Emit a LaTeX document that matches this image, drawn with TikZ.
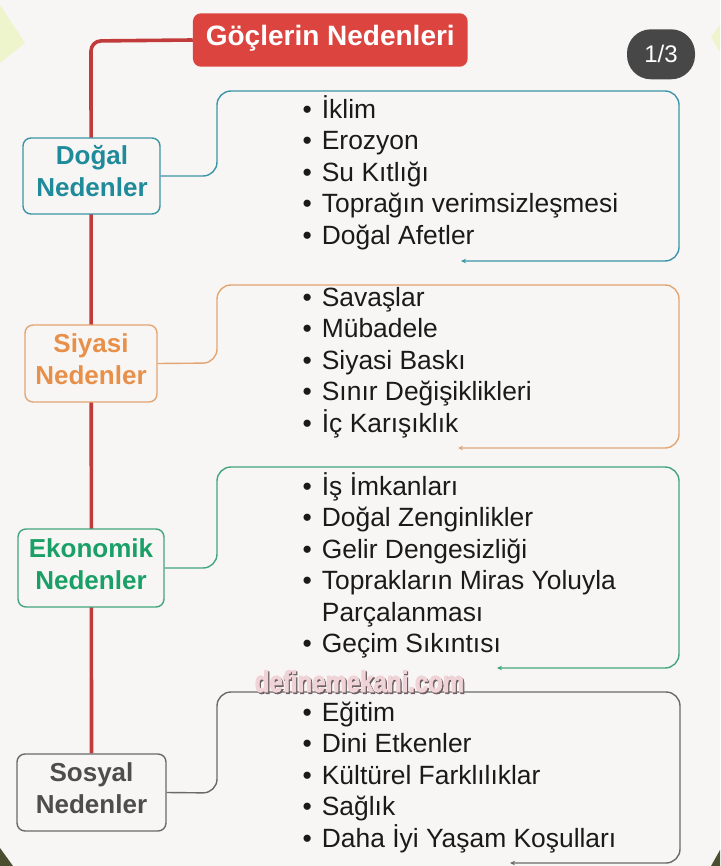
\documentclass[tikz,border=0pt]{standalone}
\usepackage{fontspec}
\setmainfont{Liberation Sans}
\newfontfamily\wmfont[BoldFeatures={FakeBold=3}]{Liberation Sans}
\usetikzlibrary{arrows.meta}
\definecolor{bgc}{HTML}{F8F6F5}
\definecolor{titlered}{HTML}{DC4440}
\definecolor{spinered}{HTML}{C23B3B}
\definecolor{tealtxt}{HTML}{1E8A9A}
\definecolor{tealln}{HTML}{3A96A6}
\definecolor{orgtxt}{HTML}{E8904A}
\definecolor{orgln}{HTML}{E2A673}
\definecolor{grntxt}{HTML}{1AA066}
\definecolor{grnln}{HTML}{42A67C}
\definecolor{graytxt}{HTML}{4D4D4D}
\definecolor{grayln}{HTML}{6A6A6A}
\definecolor{listtxt}{HTML}{1A1A1A}
\definecolor{badge}{HTML}{474747}
\definecolor{lime}{HTML}{EEF4CC}
\definecolor{olive}{HTML}{4A4F30}
\definecolor{wmpink}{HTML}{F0D3D7}
\definecolor{wmshadow}{HTML}{6E6062}
\pgfdeclarelayer{back}
\pgfdeclarelayer{bg}
\pgfsetlayers{back,bg,main}
\newcommand\li[1]{\hbox{\makebox[19.3pt][l]{•}#1}}
\newcommand\lc[1]{\hbox{\hspace*{19.3pt}#1}}
\newcommand\itemlist[1]{\vtop{\baselineskip=31.5pt\lineskiplimit=-50pt\lineskip=0pt #1}}
\newcommand\ctrlbl[2]{\vtop{\baselineskip=32pt\lineskiplimit=-50pt\lineskip=0pt\hbox to 0pt{\hss#1\hss}\hbox to 0pt{\hss#2\hss}}}
\newcommand\shadowed[1]{\rlap{\kern1.6pt\raisebox{-1.6pt}{\color{wmshadow}#1}}{\color{wmpink}#1}}
\tikzset{
  catbox/.style={draw=#1, line width=1.4pt, fill=bgc, rounded corners=8pt, inner sep=0pt},
  cattxt/.style={text=#1, font=\fontsize{26}{32}\selectfont\bfseries, inner sep=0pt, anchor=base},
  listnode/.style={text=listtxt, font=\fontsize{26.4}{31.5}\selectfont, inner sep=0pt, anchor=base west},
  bracket/.style={draw=#1, line width=1.4pt, rounded corners=14pt, -{Stealth[length=5pt,width=4.5pt]}},
  wmtext/.style={font=\fontsize{30}{32}\selectfont\wmfont\bfseries, inner sep=0pt, anchor=base},
}
\begin{document}
\begin{tikzpicture}[x=1pt,y=-1pt]
\useasboundingbox (0,0) rectangle (720,866);
\begin{pgfonlayer}{back}
\fill[bgc] (0,0) rectangle (720,866);
\fill[lime] (0,5) -- (25,43) -- (0,63) -- cycle;
\fill[lime] (711,37) -- (720,25) -- (720,52) -- cycle;
\fill[olive] (0,848) -- (13,866) -- (0,866) -- cycle;
\fill[olive] (711,866) -- (720,850) -- (720,866) -- cycle;
\end{pgfonlayer}

% title
\node[fill=titlered, rounded corners=8pt, minimum width=274.7pt, minimum height=53.4pt, inner sep=0pt,
      text=white, font=\fontsize{28}{32}\selectfont\bfseries, text height=20pt, text depth=8pt]
      (title) at (330.3,40) {Göçlerin Nedenleri};

% page badge
\node[fill=badge, rounded corners=24pt, minimum width=68pt, minimum height=50pt, inner sep=0pt,
      text=white, font=\fontsize{24}{28}\selectfont, text height=18pt, text depth=1.2pt]
      (badge) at (661,54.3) {1/3};

% category boxes
\node[catbox=tealln, minimum width=137pt, minimum height=76pt] (dogal) at (91.5,176) {};
\node[catbox=orgln, minimum width=132pt, minimum height=77pt] (siyasi) at (91,363.5) {};
\node[catbox=grnln, minimum width=146pt, minimum height=78pt] (ekonomik) at (91,568) {};
\node[catbox=grayln, minimum width=149pt, minimum height=77pt] (sosyal) at (91.5,792.5) {};

\node[cattxt=tealtxt] (dogalt) at (92,165) {\ctrlbl{Doğal}{Nedenler}};
\node[cattxt=orgtxt] (siyasit) at (91,352.7) {\ctrlbl{Siyasi}{Nedenler}};
\node[cattxt=grntxt] (ekonomikt) at (91,557.7) {\ctrlbl{Ekonomik}{Nedenler}};
\node[cattxt=graytxt] (sosyalt) at (91.5,781.7) {\ctrlbl{Sosyal}{Nedenler}};

% spine
\begin{pgfonlayer}{bg}
\draw[spinered, line width=3.6pt, rounded corners=10pt] (title.west) -- (91,41) -- (sosyal.north);
\end{pgfonlayer}

% bracket connectors
\coordinate (dogalend) at (461,261);
\coordinate (siyasiend) at (458,448);
\coordinate (ekonomikend) at (497,668);
\coordinate (sosyalend) at (510,863);
\draw[bracket=tealln] (dogal.east) -- (217,176) -- (217,91) -- (679,91) -- (679,261) -- (dogalend);
\draw[bracket=orgln] (siyasi.east) -- (217,363) -- (217,285) -- (679,285) -- (679,448) -- (siyasiend);
\draw[bracket=grnln] (ekonomik.east) -- (217,568) -- (217,467) -- (679,467) -- (679,668) -- (ekonomikend);
\draw[bracket=grayln] (sosyal.east) -- (217,793) -- (217,692) -- (680,692) -- (680,863) -- (sosyalend);

% lists
\node[listnode] (dogall) at (302.4,118.5) {\itemlist{\li{İklim}\li{Erozyon}\li{Su Kıtlığı}\li{Toprağın verimsizleşmesi}\li{Doğal Afetler}}};
\node[listnode] (siyasil) at (302.4,306) {\itemlist{\li{Savaşlar}\li{Mübadele}\li{Siyasi Baskı}\li{Sınır Değişiklikleri}\li{İç Karışıklık}}};
\node[listnode] (ekonomikl) at (302.4,495) {\itemlist{\li{İş İmkanları}\li{Doğal Zenginlikler}\li{Gelir Dengesizliği}\li{Toprakların Miras Yoluyla}\lc{Parçalanması}\li{Geçim Sıkıntısı}}};
\node[listnode] (sosyall) at (302.4,721) {\itemlist{\li{Eğitim}\li{Dini Etkenler}\li{Kültürel Farklılıklar}\li{Sağlık}\li{Daha İyi Yaşam Koşulları}}};

% watermark (pink lettering with a dark drop shadow)
\node[wmtext] (wm) at (359.5,692) {\scalebox{0.8}[1]{\shadowed{definemekani.com}}};
\end{tikzpicture}
\end{document}
